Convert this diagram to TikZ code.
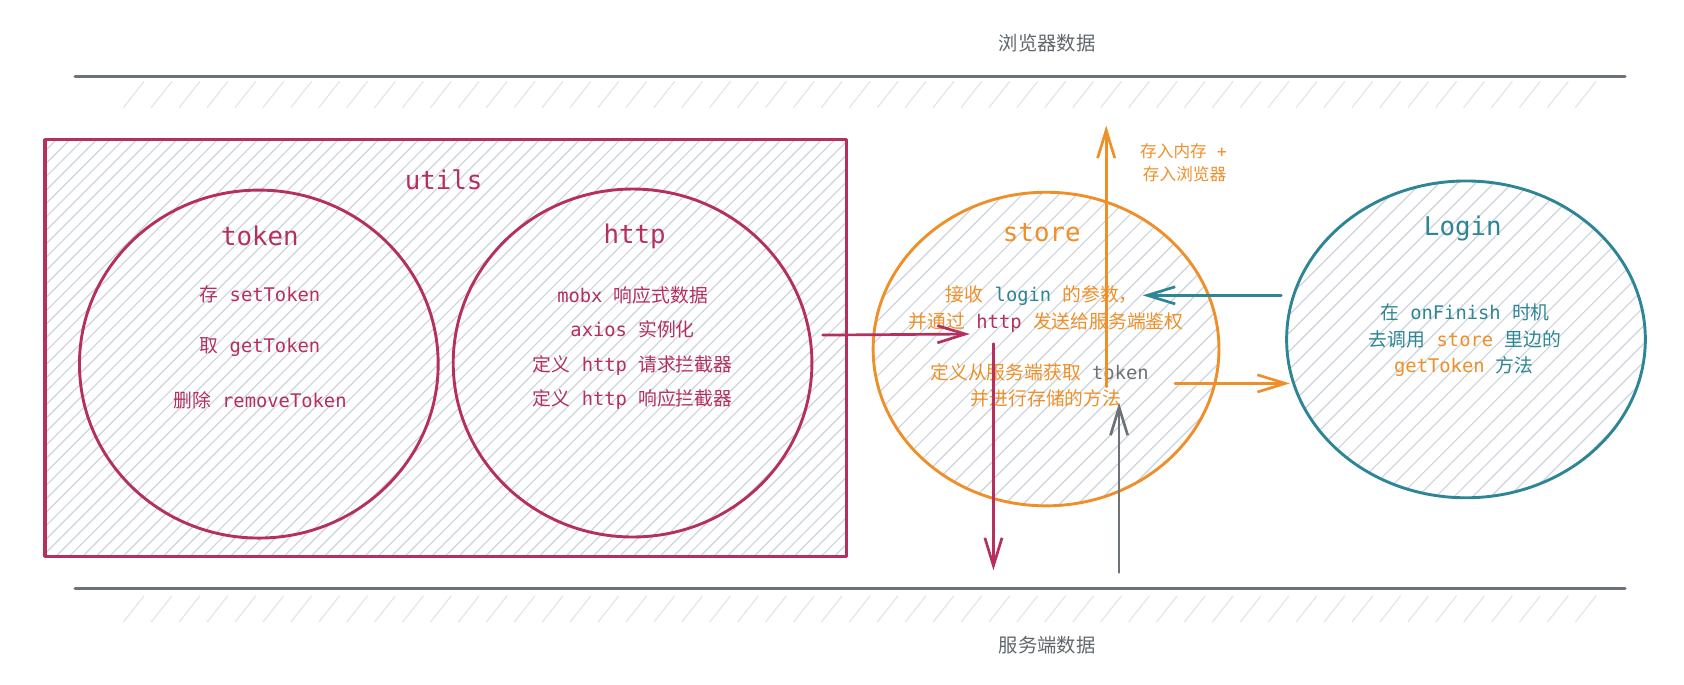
\documentclass[tikz,border=0pt]{standalone}
\usepackage{fontspec}
\setmonofont{DejaVu Sans Mono}
\newfontfamily\zh{Noto Sans CJK SC}
\usepackage{tikz}
\usetikzlibrary{positioning,calc,shapes.geometric,arrows.meta}

\definecolor{crimson}{HTML}{B5305F}
\definecolor{amber}{HTML}{EF8F2A}
\definecolor{loginteal}{HTML}{2E8595}
\definecolor{slate}{HTML}{6C7278}
\definecolor{hatchgray}{HTML}{CDD4DB}
\definecolor{bandgray}{HTML}{E4E6E8}

\begin{document}
\begin{tikzpicture}[
    x=1pt, y=-1pt,
    hatch/.style = {
        path picture={
            \foreach \k in {0,...,110}
                \draw[hatchgray, line width=1.1pt]
                    ($(path picture bounding box.south west)+(\k*#1-440pt,0pt)$) -- ++(460pt,460pt);
        }
    },
    box/.style    = {rectangle, draw=crimson, line width=3pt, inner sep=0pt, hatch=12.5pt},
    part/.style   = {ellipse, line width=2.7pt, fill=white, inner sep=0pt},
    title/.style  = {font=\fontsize{24}{28}\selectfont\ttfamily, inner sep=1pt},
    body/.style   = {font=\fontsize{17.5}{21}\selectfont\ttfamily, inner sep=1pt},
    note/.style   = {font=\fontsize{15.5}{19}\selectfont\ttfamily, inner sep=1pt, text=amber},
    side/.style   = {font=\fontsize{18}{22}\selectfont\zh, text=slate!90!black},
    rule/.style   = {draw=slate, line width=3.2pt},
    bandline/.style = {draw=bandgray, line width=1.2pt, line cap=round},
    arrow/.style  = {-{Straight Barb[length=26pt,width=16pt]}, line width=2.5pt, line cap=round},
    line cap=round, line join=round
]
\useasboundingbox (0,0) rectangle (1568,637);

% Browser side
\node[side] (browser) at (975,40) {浏览器数据};
\draw[rule] (70,71) -- (1513,71);
\foreach \x in {115,141,...,1490}
    \draw[bandline] (\x,100) -- ++(19,-24);

% Server side
\draw[rule] (70,548) -- (1513,548);
\foreach \x in {115,141,...,1490}
    \draw[bandline] (\x,579) -- ++(19,-24);
\node[side] (server) at (975,601) {服务端数据};

% utils group
\node[box, minimum width=746pt, minimum height=388pt] (utils) at (415,324) {};
\node[title, text=crimson] (utilstitle) at (413,167) {utils};

\node[part, hatch=12.5pt, draw=crimson, minimum width=334pt, minimum height=324pt] (token) at (241,339) {};
\node[part, hatch=12.5pt, draw=crimson, minimum width=334pt, minimum height=324pt] (http) at (589,338) {};

% store and Login
\node[part, hatch=17pt, draw=amber, minimum width=322pt, minimum height=292pt] (store) at (974,325) {};
\node[part, hatch=17pt, draw=loginteal, minimum width=334pt, minimum height=295pt] (login) at (1365,316) {};

% token text
\node[title, text=crimson] (tokentitle) at (242,220) {token};
\node[body, text=crimson] (tokenset) at (242,274) {{\zh 存} setToken};
\node[body, text=crimson] (tokenget) at (242,323) {{\zh 取} getToken};
\node[body, text=crimson] (tokendel) at (242,373) {{\zh 删除} removeToken};

% http text
\node[title, text=crimson] (httptitle) at (591,220) {http};
\node[body, text=crimson] (httpmobx) at (589,275) {mobx {\zh 响应式数据}};
\node[body, text=crimson] (httpaxios) at (589,307) {axios {\zh 实例化}};
\node[body, text=crimson] (httpreq) at (589,340) {{\zh 定义} http {\zh 请求拦截器}};
\node[body, text=crimson] (httpres) at (589,372) {{\zh 定义} http {\zh 响应拦截器}};

% store text
\node[title, text=amber] (storetitle) at (970,217) {store};
\node[body, text=amber] (storeone) at (970,275) {{\zh 接收} \textcolor{loginteal}{login} {\zh 的参数，}};
\node[body, text=amber] (storetwo) at (974,300) {{\zh 并通过} \textcolor{crimson}{http} {\zh 发送给服务端鉴权}};
\node[body, text=amber] (storethree) at (968,347) {{\zh 定义从服务端获取} \textcolor{slate}{token}};
\node[body, text=amber] (storefour) at (974,371) {{\zh 并进行存储的方法}};

% Login text
\node[title, text=loginteal] (logintitle) at (1362,213) {Login};
\node[body, text=loginteal] (loginone) at (1364,291) {{\zh 在} onFinish {\zh 时机}};
\node[body, text=loginteal] (logintwo) at (1364,316) {{\zh 去调用} \textcolor{amber}{store} {\zh 里边的}};
\node[body, text=loginteal] (loginthree) at (1363,341) {\textcolor{amber}{getToken} {\zh 方法}};

% Save note
\node[note] (savemem) at (1102,141) {{\zh 存入内存} +};
\node[note] (savebrowser) at (1103,162) {{\zh 存入浏览器}};

% Arrow ends
\coordinate (httpout) at (766,312);
\coordinate (storein) at (903,311);
\coordinate (sendtop) at (925,320);
\coordinate (sendend) at (925,531);
\coordinate (backstart) at (1042,533);
\coordinate (backend) at (1042,375);
\coordinate (savestart) at (1030,360);
\coordinate (saveend) at (1030,117);
\coordinate (loginout) at (1193,275);
\coordinate (storeleft) at (1064,275);
\coordinate (storeout) at (1094,357);
\coordinate (loginin) at (1201,357);

% Arrows
\draw[arrow, crimson] (httpout) -- (storein);
\draw[arrow, crimson] (sendtop) -- (sendend);
\draw[arrow, slate] (backstart) -- (backend);
\draw[arrow, amber] (savestart) -- (saveend);
\draw[arrow, loginteal] (loginout) -- (storeleft);
\draw[arrow, amber] (storeout) -- (loginin);

\end{tikzpicture}
\end{document}
